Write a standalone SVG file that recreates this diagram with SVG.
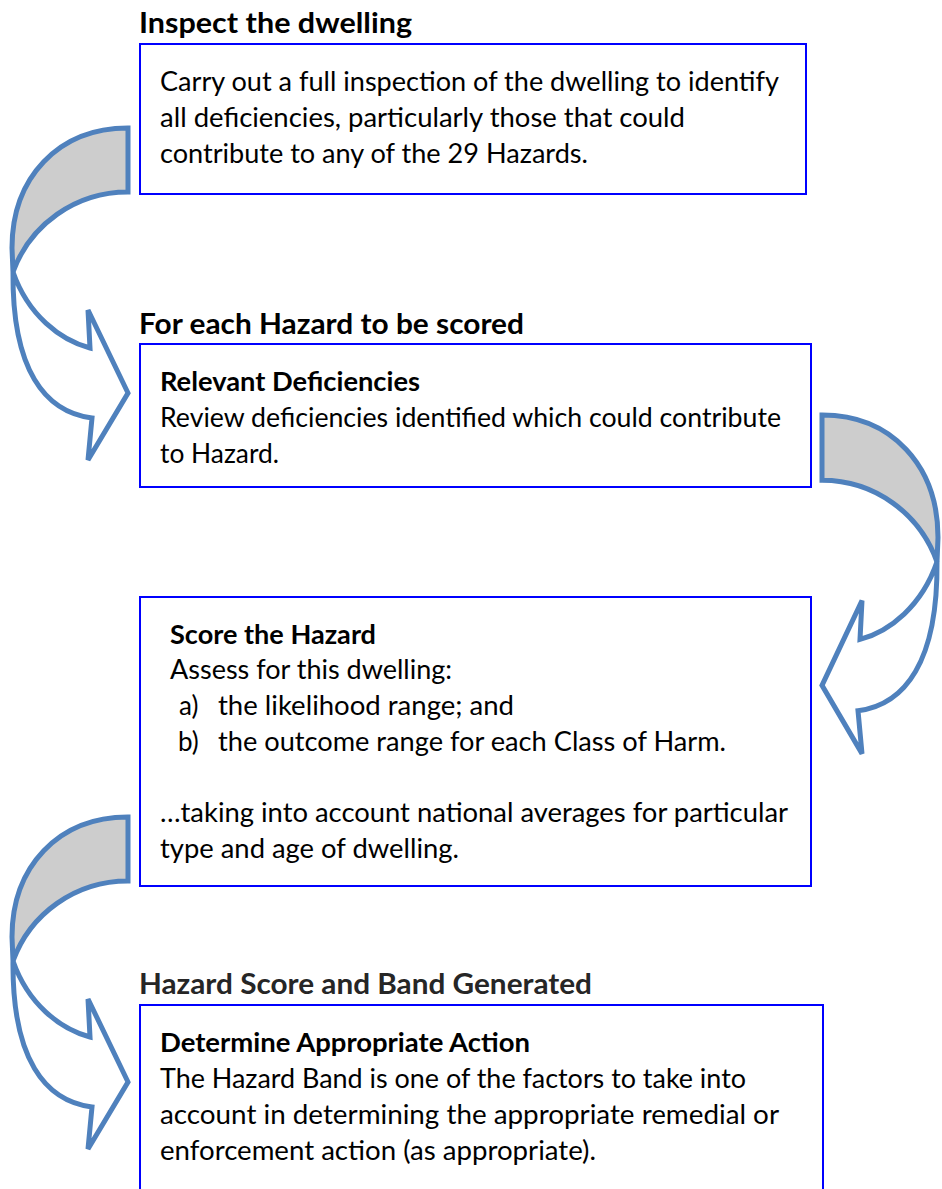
<svg xmlns="http://www.w3.org/2000/svg" width="942" height="1189" viewBox="0 0 942 1189">
<defs>
<style>
.box{fill:#fff;stroke:#0000ff;stroke-width:2}
.t{font-family:Lato,"Open Sans","Liberation Sans",sans-serif;font-size:26px;fill:#000}
.b{font-weight:bold}
.h{font-family:Lato,"Open Sans","Liberation Sans",sans-serif;font-size:28px;font-weight:bold;fill:#000}
.back{fill:#cdcdcd;stroke:#4f81bd;stroke-width:5;stroke-linejoin:miter}
.front{fill:#fff;stroke:#4f81bd;stroke-width:5;stroke-linejoin:miter}
</style>
<g id="curved-arrow">
<path class="back" d="M128,128 C58,128 12,178 12,248 L13,272 C30,225 75,192 128,192 Z"/>
<path class="front" d="M13,272 C28,315 60,340 90,348 L88,310 L128,393 L88,460 L92,418 C45,412 12,370 13,272 Z"/>
</g>
</defs>
<rect width="942" height="1189" fill="#fff"/>

<g id="connectors">
<use href="#curved-arrow"/>
<use href="#curved-arrow" transform="matrix(-1,0,0,1.02,950,284.44)"/>
<use href="#curved-arrow" transform="translate(0,689)"/>
</g>

<g id="node-inspect">
<text class="h" x="139" y="33" textLength="273" lengthAdjust="spacingAndGlyphs">Inspect the dwelling</text>
<rect class="box" x="140" y="44" width="666" height="150"/>
<text class="t" x="160" y="91" textLength="619" lengthAdjust="spacingAndGlyphs">Carry out a full inspection of the dwelling to identify</text>
<text class="t" x="160" y="127" textLength="525" lengthAdjust="spacingAndGlyphs">all deficiencies, particularly those that could</text>
<text class="t" x="160" y="163" textLength="428" lengthAdjust="spacingAndGlyphs">contribute to any of the 29 Hazards.</text>
</g>

<g id="node-deficiencies">
<text class="h" x="139" y="334" textLength="385" lengthAdjust="spacingAndGlyphs">For each Hazard to be scored</text>
<rect class="box" x="140" y="344" width="671" height="143"/>
<text class="t b" x="160" y="391" textLength="260" lengthAdjust="spacingAndGlyphs">Relevant Deficiencies</text>
<text class="t" x="160" y="427" textLength="621" lengthAdjust="spacingAndGlyphs">Review deficiencies identified which could contribute</text>
<text class="t" x="160" y="463" textLength="119" lengthAdjust="spacingAndGlyphs">to Hazard.</text>
</g>

<g id="node-score">
<rect class="box" x="140" y="597" width="671" height="289"/>
<text class="t b" x="170" y="644" textLength="206" lengthAdjust="spacingAndGlyphs">Score the Hazard</text>
<text class="t" x="170" y="679" textLength="282" lengthAdjust="spacingAndGlyphs">Assess for this dwelling:</text>
<text class="t" x="179" y="715">a)</text>
<text class="t" x="218" y="715" textLength="296" lengthAdjust="spacingAndGlyphs">the likelihood range; and</text>
<text class="t" x="178" y="751">b)</text>
<text class="t" x="218" y="751" textLength="508" lengthAdjust="spacingAndGlyphs">the outcome range for each Class of Harm.</text>
<text class="t" x="160" y="822" textLength="628" lengthAdjust="spacingAndGlyphs">…taking into account national averages for particular</text>
<text class="t" x="160" y="858" textLength="299" lengthAdjust="spacingAndGlyphs">type and age of dwelling.</text>
</g>

<g id="node-action">
<text class="h" x="139" y="994" style="fill:#262626" textLength="453" lengthAdjust="spacingAndGlyphs">Hazard Score and Band Generated</text>
<rect class="box" x="140" y="1005" width="683" height="200"/>
<text class="t b" x="160" y="1052" textLength="370" lengthAdjust="spacingAndGlyphs">Determine Appropriate Action</text>
<text class="t" x="160" y="1088" textLength="586" lengthAdjust="spacingAndGlyphs">The Hazard Band is one of the factors to take into</text>
<text class="t" x="160" y="1124" textLength="619" lengthAdjust="spacingAndGlyphs">account in determining the appropriate remedial or</text>
<text class="t" x="160" y="1160" textLength="436" lengthAdjust="spacingAndGlyphs">enforcement action (as appropriate).</text>
</g>
</svg>
